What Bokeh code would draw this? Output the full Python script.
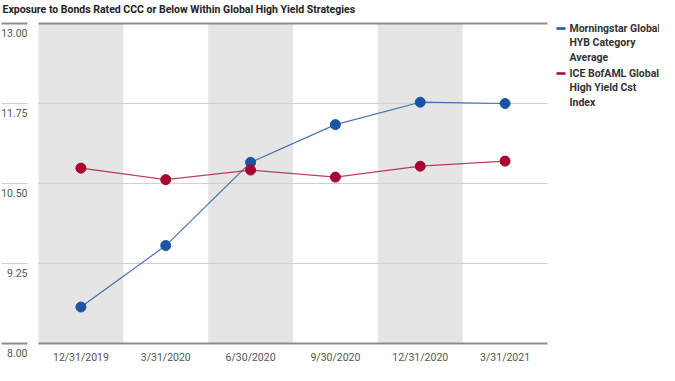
from bokeh.plotting import figure
from bokeh.models import Range1d, ColumnDataSource
from bokeh.core.properties import value
from bokeh.embed import file_html
from bokeh.resources import INLINE

title_text = "Exposure to Bonds Rated CCC or Below Within Global High Yield Strategies"
categories = ["12/31/2019", "3/31/2020", "6/30/2020", "9/30/2020", "12/31/2020", "3/31/2021"]
morningstar = [8.57, 9.53, 10.83, 11.42, 11.77, 11.75]
ice_index = [10.74, 10.56, 10.71, 10.60, 10.77, 10.85]
y_ticks = [8.00, 9.25, 10.50, 11.75, 13.00]
y_labels = ["8.00", "9.25", "10.50", "11.75", "13.00"]
legend_1 = ["Morningstar Global", "HYB Category", "Average"]
legend_2 = ["ICE BofAML Global", "High Yield Cst", "Index"]

BLUE = "#1B53A5"
RED = "#A8002E"
FONT = "Roboto"

W, H = 659, 365
PLOT_L, PLOT_R = 38, 547
px_x = (PLOT_R - PLOT_L) / 6.0
x_start = -0.5 - PLOT_L / px_x
x_end = x_start + W / px_x
px_y = 320 / 5.0
y_end = 13 + 23 / px_y
y_start = 8 - (H - 343) / px_y

def fx(px):
    return x_start + px / px_x

def fy(py):
    return y_end - py / px_y

xs = list(range(len(categories)))
ymin, ymax = y_ticks[0], y_ticks[-1]

p = figure(width=W, height=H, output_backend="svg", toolbar_location=None,
           x_range=Range1d(x_start, x_end), y_range=Range1d(y_start, y_end),
           x_axis_type=None, y_axis_type=None,
           min_border_left=0, min_border_right=0, min_border_top=0,
           min_border_bottom=0)
p.outline_line_color = None
p.background_fill_color = "white"
p.border_fill_color = "white"

# alternating bands
band_idx = xs[0::2]
p.quad(left=[i - 0.5 for i in band_idx], right=[i + 0.5 for i in band_idx],
       bottom=ymin, top=ymax, fill_color="#E5E5E5", line_color=None)

# gridlines (plot area + left stubs)
stub_l, stub_r = fx(1), fx(27)
inner_ticks = y_ticks[1:-1]
p.segment(x0=-0.5, x1=xs[-1] + 0.5, y0=inner_ticks, y1=inner_ticks,
          line_color="#D0D0D0", line_width=1)
p.segment(x0=stub_l, x1=stub_r, y0=inner_ticks, y1=inner_ticks,
          line_color="#D0D0D0", line_width=1)
edge_ticks = [y_ticks[0], y_ticks[-1]]
p.segment(x0=-0.5, x1=xs[-1] + 0.5, y0=edge_ticks, y1=edge_ticks,
          line_color="#8C8C8C", line_width=2)
p.segment(x0=stub_l, x1=stub_r, y0=edge_ticks, y1=edge_ticks,
          line_color="#8C8C8C", line_width=2)

# y labels below gridlines
p.text(x=stub_r, y=y_ticks, text=y_labels, text_align="right",
       text_baseline="middle", y_offset=9.5, text_font=value(FONT),
       text_font_size="10.5px", text_color="#555555")

# x labels
p.text(x=xs, y=ymin, text=categories, text_align="center",
       text_baseline="middle", y_offset=13.5, text_font=value(FONT),
       text_font_size="10.5px", text_color="#555555")

# series
p.line(xs, morningstar, line_color=BLUE, line_width=1.2, line_alpha=0.8)
p.scatter(xs, morningstar, size=10, fill_color=BLUE, line_color=BLUE)
p.line(xs, ice_index, line_color=RED, line_width=1.2, line_alpha=0.75)
p.scatter(xs, ice_index, size=10, fill_color=RED, line_color=RED)

# title
p.text(x=[fx(2)], y=[fy(9)], text=[title_text], text_align="left",
       text_baseline="middle", text_font=value(FONT), text_font_style="bold",
       text_font_size="10.5px", text_color="#222222")

# legend
p.segment(x0=[fx(556)] * 2, x1=[fx(565)] * 2, y0=[fy(28), fy(73)], y1=[fy(28), fy(73)],
          line_color=[BLUE, RED], line_width=2.5)
leg_y = [28, 42.3, 56.6, 73, 87.3, 101.6]
leg_src = ColumnDataSource(dict(
    x=[fx(569)] * 6, y=[fy(v) for v in leg_y], text=legend_1 + legend_2))
p.text(x="x", y="y", text="text", source=leg_src,
       text_align="left", text_baseline="middle", text_font=value(FONT),
       text_font_size="10.5px", text_font_style="bold", text_color="#333333")

open("out.html", "w").write(file_html(p, INLINE))
